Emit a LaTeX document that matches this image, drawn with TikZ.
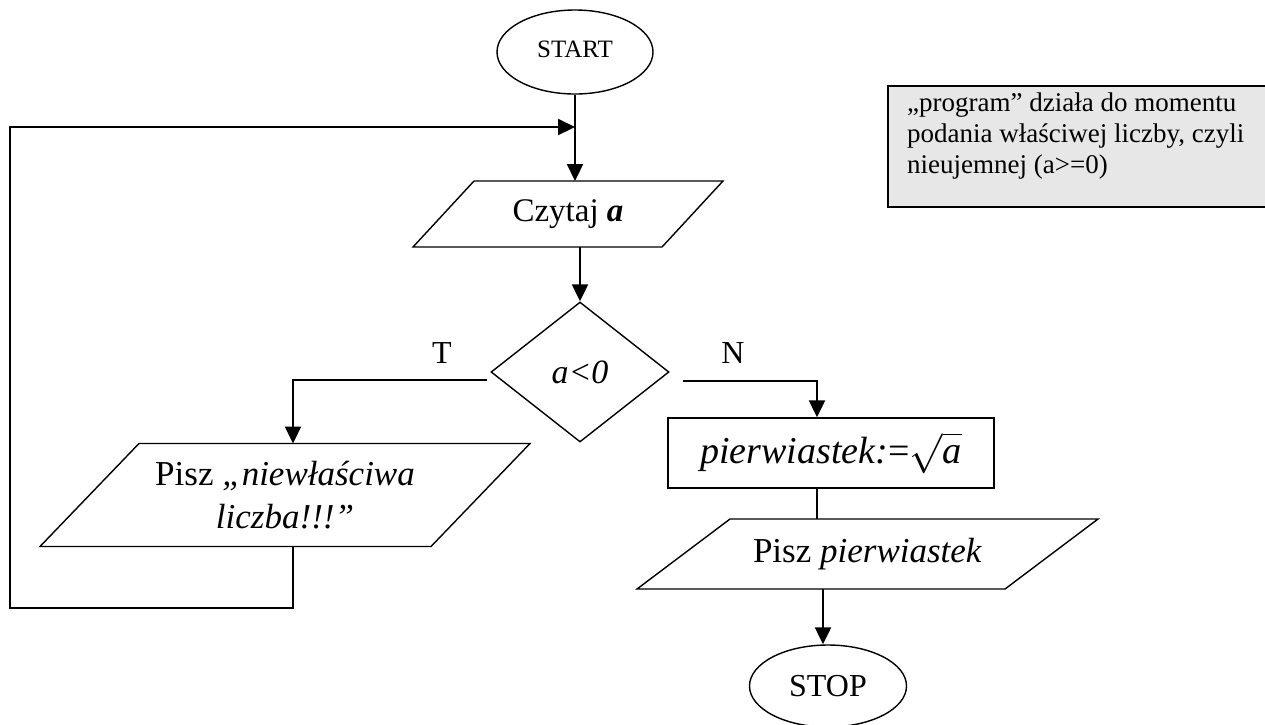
\documentclass[tikz,border=0pt]{standalone}
\usepackage{graphicx}
\usepackage{fontspec}
\setmainfont{Liberation Serif}
\usetikzlibrary{shapes.geometric,arrows.meta,calc}
\definecolor{notegray}{RGB}{231,231,231}
\begin{document}
\begin{tikzpicture}[x=1pt,y=-1pt,
  shp/.style={draw=black, line width=1.4pt},
  arr/.style={line width=2.2pt, -{Triangle[length=17pt,width=16pt]}},
  ln/.style={line width=1.6pt},
  txtbox/.style={inner sep=0pt, outer sep=0pt},
]
\fill[white] (0,0) rectangle (1265,724);
\useasboundingbox (0,0) rectangle (1265,724);

% nodes
\node[shp, ellipse, minimum width=156pt, minimum height=84pt, inner sep=0pt,
  font=\fontsize{25}{30}\selectfont] (start) at (575,52) {\raisebox{6pt}{START}};

\node[txtbox, minimum width=249pt, minimum height=66pt,
  font=\fontsize{33}{40}\selectfont] (czytaj) at (568,214) {Czytaj \textbf{\textit{a}}};
\draw[shp] ($(czytaj.south west)+(-30.5,0)$) -- ($(czytaj.north west)+(30.5,0)$)
  -- ($(czytaj.north east)+(30.5,0)$) -- ($(czytaj.south east)+(-30.5,0)$) -- cycle;

\node[shp, diamond, minimum width=178pt, minimum height=140pt, inner sep=0pt,
  font=\fontsize{34}{40}\selectfont] (dec) at (580,372) {\textit{a<0}};

\node[shp, minimum width=326pt, minimum height=70pt, inner sep=0pt,
  font=\fontsize{38}{44}\selectfont] (pier) at (831,453)
  {\textit{pierwiastek:}=\scalebox{1.6}{\fontsize{24}{28}\selectfont$\sqrt{\textit{a}}$}};

\node[txtbox, minimum width=368pt, minimum height=70pt,
  font=\fontsize{35}{42}\selectfont] (pisz2) at (867.5,554) {Pisz \textit{pierwiastek}};
\draw[shp] ($(pisz2.south west)+(-46.5,0)$) -- ($(pisz2.north west)+(46.5,0)$)
  -- ($(pisz2.north east)+(46.5,0)$) -- ($(pisz2.south east)+(-46.5,0)$) -- cycle;

\node[txtbox, minimum width=391pt, minimum height=103pt, align=center,
  font=\fontsize{35}{43}\selectfont] (pisz1) at (285,495) {Pisz \textit{„niewłaściwa}\\\textit{liczba!!!”}};
\draw[shp] ($(pisz1.south west)+(-49.5,0)$) -- ($(pisz1.north west)+(49.5,0)$)
  -- ($(pisz1.north east)+(49.5,0)$) -- ($(pisz1.south east)+(-49.5,0)$) -- cycle;

\node[shp, ellipse, minimum width=157pt, minimum height=82pt, inner sep=0pt,
  font=\fontsize{32}{38}\selectfont] (stop) at (828,686) {STOP};

\node[font=\fontsize{32}{38}\selectfont] (tlab) at (442,353) {T};
\node[font=\fontsize{32}{38}\selectfont] (nlab) at (733,353) {N};

\node[draw=black, line width=1.6pt, fill=notegray, minimum width=380pt, minimum height=121pt,
  anchor=north west, inner sep=0pt] (note) at (887,85) {};
\node[anchor=north west, inner sep=0pt, align=left,
  font=\fontsize{27}{31}\selectfont] (notetext) at (907,93)
  {„program” działa do momentu\\podania właściwej liczby, czyli\\nieujemnej (a>=0)};

% connectors
\draw[arr] (start.south) -- (start.south |- czytaj.north);
\draw[arr] (dec.north |- czytaj.south) -- (dec.north);

\coordinate (tst) at ($(dec.west)+(-3,8)$);
\coordinate (tend) at ([xshift=8pt]pisz1.north);
\draw[arr] (tst) -| (tend);

\coordinate (nst) at ($(dec.east)+(13,9)$);
\coordinate (nend) at ([xshift=-14pt]pier.north);
\draw[arr] (nst) -| (nend);

\coordinate (pierout) at ([xshift=-14pt]pier.south);
\draw[ln] (pierout) -- (pierout |- pisz2.north);

\coordinate (stopin) at ([xshift=-5pt]stop.north);
\draw[arr] (stopin |- pisz2.south) -- (stopin);

\coordinate (loopout) at ([xshift=8pt]pisz1.south);
\coordinate (loopbl) at (10,608);
\coordinate (mergey) at (0,127);
\coordinate (merge) at (start.south |- mergey);
\draw[arr] (loopout) |- (loopbl) |- (merge);
\end{tikzpicture}
\end{document}
